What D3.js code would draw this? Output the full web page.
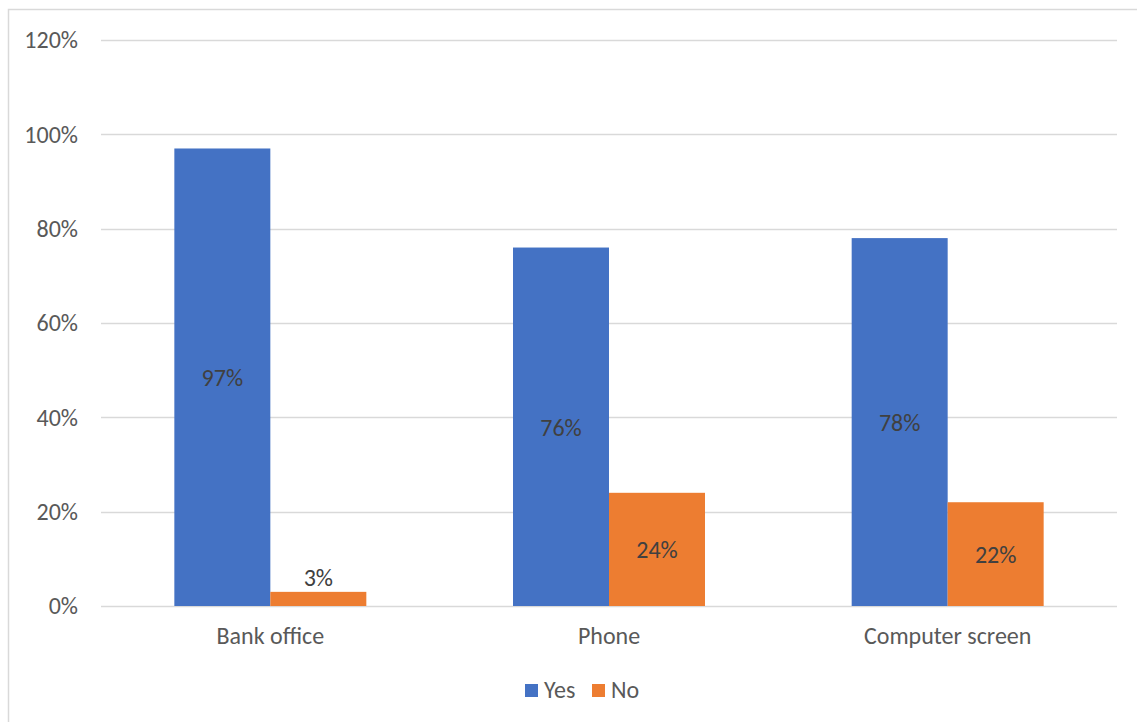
<!DOCTYPE html>
<html>
<head>
<meta charset="utf-8">
<script src="https://cdn.jsdelivr.net/npm/d3@7"></script>
<style>
  html, body { margin: 0; padding: 0; background: #fff; }
  svg { display: block; font-family: Carlito, "Open Sans", "Liberation Sans", sans-serif; }
</style>
</head>
<body>
<svg id="chart" width="1137" height="722"></svg>
<script>
// Survey answers per channel
const categories = ["Bank office", "Phone", "Computer screen"];
const seriesNames = ["Yes", "No"];
const yesValues = [0.97, 0.76, 0.78];
const noValues = [0.03, 0.24, 0.22];
const yTicks = [0, 0.2, 0.4, 0.6, 0.8, 1.0, 1.2];
const colors = ["#4472C4", "#ED7D31"];

const svg = d3.select("#chart");
const W = 1137, H = 722;
const plot = { left: 101, right: 1117, top: 40, bottom: 606 };
const fontSize = 24;

// Outer chart border
svg.append("rect")
  .attr("x", 8.5).attr("y", 9.5)
  .attr("width", W + 10).attr("height", H + 10)
  .attr("fill", "#fff").attr("stroke", "#d9d9d9").attr("stroke-width", 1.5);

const y = d3.scaleLinear().domain([0, 1.2]).range([plot.bottom, plot.top]);
const x0 = d3.scaleBand().domain(categories).range([plot.left, plot.right]).paddingInner(0).paddingOuter(0);
const x1 = d3.scaleBand().domain(seriesNames).range([0, x0.bandwidth()]).paddingInner(0).paddingOuter(0.764);

// Gridlines
svg.append("g").selectAll("line").data(yTicks).join("line")
  .attr("x1", plot.left).attr("x2", plot.right)
  .attr("y1", d => Math.round(y(d)) + 0.5).attr("y2", d => Math.round(y(d)) + 0.5)
  .attr("stroke", "#d9d9d9").attr("stroke-width", 1.3);

// Y axis labels
const yAxis = d3.axisLeft(y).tickValues(yTicks).tickFormat(d3.format(".0%")).tickSize(0).tickPadding(23);
const yg = svg.append("g").attr("transform", `translate(${plot.left},0)`).call(yAxis);
yg.select(".domain").remove();
yg.selectAll("text").attr("fill", "#595959").attr("font-size", fontSize).attr("font-family", "Carlito, 'Open Sans', sans-serif");

// Bars
const rows = categories.map((c, i) => ({ cat: c, values: [yesValues[i], noValues[i]] }));
const groups = svg.append("g").selectAll("g").data(rows).join("g")
  .attr("transform", d => `translate(${x0(d.cat)},0)`);

groups.selectAll("rect").data(d => d.values.map((v, j) => ({ v, s: seriesNames[j], j })))
  .join("rect")
  .attr("x", d => x1(d.s))
  .attr("width", x1.bandwidth())
  .attr("y", d => y(d.v))
  .attr("height", d => y(0) - y(d.v))
  .attr("fill", d => colors[d.j]);

// Data labels: centred in the bar, or just above it when the bar is too short
groups.selectAll("text").data(d => d.values.map((v, j) => ({ v, s: seriesNames[j], j })))
  .join("text")
  .attr("x", d => x1(d.s) + x1.bandwidth() / 2)
  .attr("y", d => {
    const h = y(0) - y(d.v);
    return h < 30 ? y(d.v) - 6 : y(d.v / 2) + 9;
  })
  .attr("text-anchor", "middle")
  .attr("fill", "#404040")
  .attr("font-size", fontSize)
  .text(d => d3.format(".0%")(d.v));

// Category labels
svg.append("g").selectAll("text").data(categories).join("text")
  .attr("x", d => x0(d) + x0.bandwidth() / 2)
  .attr("y", 644)
  .attr("text-anchor", "middle")
  .attr("fill", "#595959")
  .attr("font-size", fontSize)
  .text(d => d);

// Legend
const legend = svg.append("g");
const legendItems = [{ name: "Yes", x: 525 }, { name: "No", x: 592 }];
legendItems.forEach((item, i) => {
  legend.append("rect").attr("x", item.x).attr("y", 684).attr("width", 13).attr("height", 13).attr("fill", colors[i]);
  legend.append("text").attr("x", item.x + 19).attr("y", 698)
    .attr("fill", "#595959").attr("font-size", fontSize).text(item.name);
});
</script>
</body>
</html>
